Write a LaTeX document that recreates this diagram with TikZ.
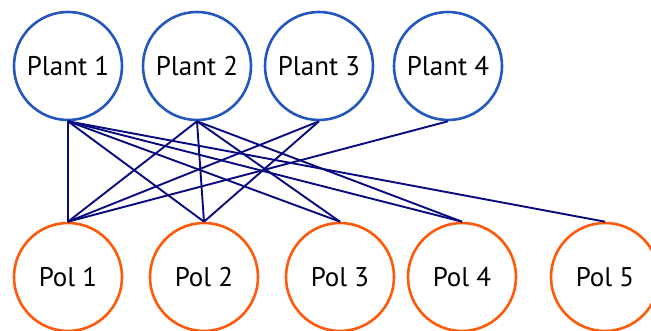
\documentclass[tikz,border=0pt]{standalone}
\usepackage{fontspec}
\setmainfont{PT Sans}

\begin{document}
\begin{tikzpicture}[x=1pt, y=1pt,
    plant/.style={circle, draw=plant_blue, line width=2.6pt, minimum size=108pt, inner sep=0pt, font=\fontsize{27}{30}\selectfont},
    pol/.style={circle, draw=pol_orange, line width=2.6pt, minimum size=108pt, inner sep=0pt, font=\fontsize{27}{30}\selectfont},
    link/.style={color=link_navy, line width=1.9pt}]
    \definecolor{plant_blue}{HTML}{2457BD}
    \definecolor{pol_orange}{HTML}{FF5A0A}
    \definecolor{link_navy}{HTML}{0A0A80}
    %\draw[help lines] (0,0) grid (651,331);
    \useasboundingbox (0,0) rectangle (651,331);

    \node[plant] (plant1) at (68,265) {Plant 1};
    \node[plant] (plant2) at (197,265) {Plant 2};
    \node[plant] (plant3) at (319,265) {Plant 3};
    \node[plant] (plant4) at (448,265) {Plant 4};

    \node[pol] (pol1) at (68,54) {Pol 1};
    \node[pol] (pol2) at (204,54) {Pol 2};
    \node[pol] (pol3) at (340,54) {Pol 3};
    \node[pol] (pol4) at (462,54) {Pol 4};
    \node[pol] (pol5) at (605,54) {Pol 5};

    \draw[link] (plant1.south) -- (pol1.north);
    \draw[link] (plant1.south) -- (pol2.north);
    \draw[link] (plant1.south) -- (pol3.north);
    \draw[link] (plant1.south) -- (pol4.north);
    \draw[link] (plant1.south) -- (pol5.north);
    \draw[link] (plant2.south) -- (pol1.north);
    \draw[link] (plant2.south) -- (pol2.north);
    \draw[link] (plant2.south) -- (pol3.north);
    \draw[link] (plant2.south) -- (pol4.north);
    \draw[link] (plant3.south) -- (pol1.north);
    \draw[link] (plant3.south) -- (pol2.north);
    \draw[link] (plant4.south) -- (pol1.north);

\end{tikzpicture}
\end{document}
